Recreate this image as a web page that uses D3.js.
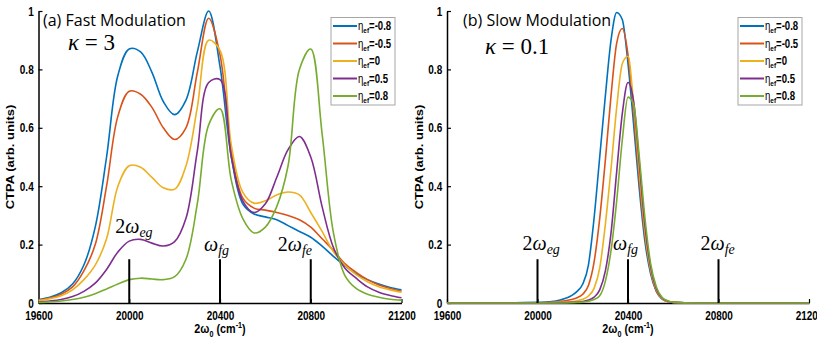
<!DOCTYPE html>
<html>
<head>
<meta charset="utf-8">
<script src="https://cdn.jsdelivr.net/npm/d3@7"></script>
<style>
  body { margin: 0; background: #fff; }
  svg { display: block; }
</style>
</head>
<body>
<script>
// ---- data ----
var etaLabels = ["-0.8", "-0.5", "0", "0.5", "0.8"];
var colors = ["#0072BD", "#D95319", "#EDB120", "#7E2F8E", "#77AC30"];

// (a) fast modulation, kappa = 3
var fastWave = [19600, 19650, 19700, 19750, 19800, 19850, 19900, 19950, 20000, 20050,
                20100, 20150, 20200, 20250, 20300, 20350, 20400, 20450, 20500, 20550,
                20600, 20650, 20700, 20750, 20800, 20850, 20900, 20950, 21000, 21050,
                21100, 21150, 21200];
var fastBlue   = [0.012, 0.02, 0.035, 0.065, 0.13, 0.26, 0.5, 0.78, 0.87, 0.86,
                  0.79, 0.69, 0.645, 0.695, 0.86, 1.0, 0.81, 0.5, 0.34, 0.305,
                  0.295, 0.285, 0.265, 0.245, 0.225, 0.195, 0.16, 0.128, 0.1, 0.08,
                  0.065, 0.053, 0.045];
var fastRed    = [0.01, 0.017, 0.03, 0.055, 0.11, 0.2, 0.4, 0.64, 0.725, 0.715,
                  0.67, 0.6, 0.56, 0.6, 0.79, 0.975, 0.85, 0.52, 0.36, 0.325,
                  0.318, 0.31, 0.3, 0.285, 0.26, 0.22, 0.18, 0.135, 0.105, 0.08,
                  0.062, 0.05, 0.04];
var fastYellow = [0.008, 0.015, 0.025, 0.045, 0.08, 0.13, 0.22, 0.4, 0.47, 0.465,
                  0.43, 0.395, 0.39, 0.47, 0.67, 0.9, 0.865, 0.54, 0.38, 0.342,
                  0.35, 0.37, 0.38, 0.37, 0.31, 0.245, 0.175, 0.13, 0.097, 0.073,
                  0.056, 0.045, 0.037];
var fastPurple = [0.004, 0.007, 0.012, 0.022, 0.04, 0.068, 0.115, 0.175, 0.212, 0.218,
                  0.205, 0.195, 0.21, 0.29, 0.52, 0.755, 0.765, 0.5, 0.35, 0.31,
                  0.34, 0.43, 0.525, 0.57, 0.5, 0.33, 0.19, 0.12, 0.085, 0.055,
                  0.037, 0.026, 0.018];
var fastGreen  = [0.002, 0.004, 0.007, 0.012, 0.02, 0.032, 0.048, 0.065, 0.08, 0.085,
                  0.082, 0.08, 0.09, 0.15, 0.34, 0.61, 0.665, 0.42, 0.29, 0.24,
                  0.26, 0.33, 0.47, 0.8, 0.87, 0.58, 0.24, 0.095, 0.05, 0.03,
                  0.02, 0.013, 0.01];

// (b) slow modulation, kappa = 0.1
var slowWave = [19600, 19800, 20000, 20050, 20100, 20150, 20175, 20200, 20225, 20250,
                20275, 20300, 20325, 20350, 20375, 20400, 20425, 20450, 20475, 20500,
                20525, 20550, 20575, 20600, 20700, 20800, 21000, 21200];
var slowBlue   = [0, 0, 0.002, 0.004, 0.01, 0.025, 0.04, 0.065, 0.13, 0.29,
                  0.5, 0.71, 0.9, 0.995, 0.97, 0.82, 0.61, 0.39, 0.21, 0.1,
                  0.04, 0.014, 0.005, 0.002, 0, 0, 0, 0];
var slowRed    = [0, 0, 0.001, 0.002, 0.005, 0.012, 0.018, 0.03, 0.06, 0.14,
                  0.29, 0.49, 0.71, 0.89, 0.94, 0.85, 0.65, 0.42, 0.23, 0.11,
                  0.042, 0.015, 0.005, 0.002, 0, 0, 0, 0];
var slowYellow = [0, 0, 0, 0.001, 0.002, 0.005, 0.008, 0.013, 0.024, 0.05,
                  0.12, 0.27, 0.46, 0.67, 0.82, 0.845, 0.68, 0.45, 0.245, 0.115,
                  0.046, 0.016, 0.006, 0.002, 0, 0, 0, 0];
var slowPurple = [0, 0, 0, 0, 0.001, 0.002, 0.003, 0.005, 0.01, 0.02,
                  0.045, 0.11, 0.24, 0.45, 0.65, 0.755, 0.69, 0.48, 0.265, 0.125,
                  0.05, 0.018, 0.007, 0.002, 0, 0, 0, 0];
var slowGreen  = [0, 0, 0, 0, 0, 0.001, 0.002, 0.003, 0.006, 0.012,
                  0.025, 0.075, 0.18, 0.35, 0.56, 0.705, 0.68, 0.5, 0.29, 0.135,
                  0.056, 0.02, 0.008, 0.003, 0, 0, 0, 0];

var xTicks = [19600, 20000, 20400, 20800, 21200];
var yTicks = [0, 0.2, 0.4, 0.6, 0.8, 1];
// transition markers: prefix, omega subscript, position, stick height
var markPrefix = ["2", "", "2"];
var markSubs = ["eg", "fg", "fe"];
var markAt = [20000, 20400, 20800];
var stickHeight = 0.15;

var width = 817, height = 341;
var squeezeX = 0.8; // the matlab part of the figure is stretched vertically

var svg = d3.select("body").append("svg")
    .attr("width", width)
    .attr("height", height);

function drawPanel(p) {
  var x = d3.scaleLinear().domain([19600, 21200]).range([p.left, p.right]);
  var y = d3.scaleLinear().domain([0, 1]).range([303, 11]);
  var g = svg.append("g");

  // axes
  var yAxis = g.append("g")
      .attr("transform", `translate(${p.left},0)`)
      .call(d3.axisLeft(y).tickValues(yTicks).tickSizeInner(-4).tickSizeOuter(0).tickPadding(6)
        .tickFormat(d3.format("~g")));
  var xAxis = g.append("g")
      .attr("transform", "translate(0,303)")
      .call(d3.axisBottom(x).tickValues(xTicks).tickSizeInner(-4).tickSizeOuter(0).tickPadding(8)
        .tickFormat(d3.format("d")));
  [yAxis, xAxis].forEach(a => {
    a.select(".domain").attr("stroke", "#000").attr("stroke-width", 1.5);
    a.selectAll(".tick line").attr("stroke", "#000").attr("stroke-width", 1.2);
    a.selectAll(".tick text")
      .attr("fill", "#000")
      .style("font-family", "Liberation Sans, Arial, sans-serif")
      .style("font-weight", "bold")
      .style("font-size", "12.5px")
      .attr("transform", `scale(${squeezeX},1)`);
  });

  // axis titles
  g.append("text")
      .attr("transform", `translate(${p.left - 28},157) scale(${squeezeX},1) rotate(-90)`)
      .attr("text-anchor", "middle")
      .attr("dy", "0.35em")
      .style("font-family", "Liberation Sans, Arial, sans-serif")
      .style("font-weight", "bold")
      .style("font-size", "13px")
      .text("CTPA (arb. units)");
  var xl = g.append("text")
      .attr("transform", `translate(${(p.left + p.right) / 2},333) scale(${squeezeX},1)`)
      .attr("text-anchor", "middle")
      .style("font-family", "Liberation Sans, Arial, sans-serif")
      .style("font-weight", "bold")
      .style("font-size", "13.5px");
  xl.append("tspan").text("2\u03C9");
  xl.append("tspan").attr("dy", 4).style("font-size", "9px").text("0");
  xl.append("tspan").attr("dy", -4).text(" (cm");
  xl.append("tspan").attr("dy", -5).style("font-size", "9px").text("-1");
  xl.append("tspan").attr("dy", 5).text(")");

  // spectra
  var line = d3.line()
      .x((d, i) => x(p.wave[i]))
      .y(d => y(d))
      .curve(p.curve);
  g.append("g").selectAll("path")
    .data(p.series)
    .join("path")
      .attr("fill", "none")
      .attr("stroke", (d, i) => colors[i])
      .attr("stroke-width", 1.6)
      .attr("d", line);

  // transition sticks and labels
  markAt.forEach((w, i) => {
    g.append("line")
        .attr("x1", x(w)).attr("x2", x(w))
        .attr("y1", y(0)).attr("y2", y(stickHeight))
        .attr("stroke", "#000").attr("stroke-width", 2);
    var t = g.append("text")
        .attr("x", x(w) + p.markDx[i])
        .attr("y", p.markY[i])
        .style("font-family", "Liberation Serif, DejaVu Serif, serif")
        .style("font-size", "20px");
    t.append("tspan").text(markPrefix[i]);
    t.append("tspan").style("font-style", "italic").text("\u03C9");
    t.append("tspan").attr("dy", 4).style("font-size", "14px").style("font-style", "italic").text(markSubs[i]);
  });

  // panel title and kappa
  g.append("text")
      .attr("x", p.titleX).attr("y", 26)
      .style("font-family", "Open Sans, Noto Sans, sans-serif")
      .style("font-size", "16px")
      .text(p.title);
  var k = g.append("text")
      .attr("x", p.kappaX).attr("y", p.kappaY)
      .style("font-family", "Liberation Serif, DejaVu Serif, serif")
      .style("font-size", "23px")
      .attr("xml:space", "preserve");
  k.append("tspan").style("font-style", "italic").text("\u03BA");
  k.append("tspan").text(" = " + p.kappa);

  // legend
  var lg = g.append("g").attr("transform", `translate(${p.legendX},17)`);
  lg.append("rect")
      .attr("x", 0.5).attr("y", 0.5)
      .attr("width", 64).attr("height", 87.5)
      .attr("fill", "#fff").attr("stroke", "#a6a6a6").attr("stroke-width", 1);
  etaLabels.forEach((lab, i) => {
    var ry = 9 + i * 17.5;
    lg.append("line")
        .attr("x1", 2.5).attr("x2", 26.5)
        .attr("y1", ry).attr("y2", ry)
        .attr("stroke", colors[i]).attr("stroke-width", 2);
    var t = lg.append("text")
        .attr("transform", `translate(27.5,${ry + 4}) scale(${squeezeX},1)`)
        .style("font-family", "Liberation Sans, Arial, sans-serif")
        .style("font-weight", "bold")
        .style("font-size", "12px");
    t.append("tspan").style("font-weight", "normal").text("\u03B7");
    t.append("tspan").attr("dy", 3).style("font-size", "8px").text("ef");
    t.append("tspan").attr("dy", -3).text("=" + lab);
  });
}

drawPanel({
  left: 38.5, right: 401.5,
  wave: fastWave,
  series: [fastBlue, fastRed, fastYellow, fastPurple, fastGreen],
  curve: d3.curveCatmullRom.alpha(0.5),
  title: "(a) Fast Modulation", titleX: 43,
  kappa: "3", kappaX: 68, kappaY: 50,
  markDx: [-14, -16, -33], markY: [233, 251, 251],
  legendX: 330.5
});

drawPanel({
  left: 447, right: 809,
  wave: slowWave,
  series: [slowBlue, slowRed, slowYellow, slowPurple, slowGreen],
  curve: d3.curveMonotoneX,
  title: "(b) Slow Modulation", titleX: 463,
  kappa: "0.1", kappaX: 485, kappaY: 54,
  markDx: [-15, -15, -18], markY: [250, 250, 250],
  legendX: 737.5
});
</script>
</body>
</html>
